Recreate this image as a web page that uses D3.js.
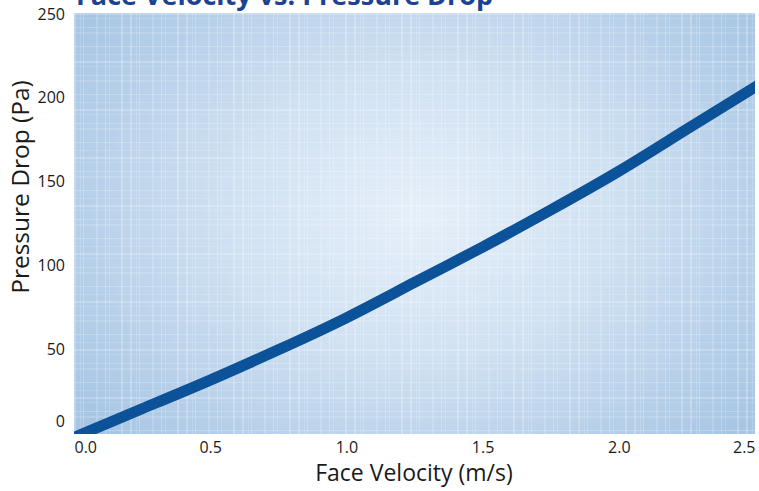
<!DOCTYPE html>
<html>
<head>
<meta charset="utf-8">
<script src="https://cdn.jsdelivr.net/npm/d3@7"></script>
<style>
  html, body { margin: 0; padding: 0; background: #ffffff; }
  svg { display: block; }
</style>
</head>
<body>
<svg id="chart" width="759" height="491"></svg>
<script>
// ---- data ----
const velocity = [0.0, 0.25, 0.5, 0.75, 1.0, 1.25, 1.5, 1.75, 2.0, 2.25, 2.5, 2.55];
const pressure = [-2, 15, 32, 50, 69, 90, 111, 133, 156, 181, 206, 211];
const xTicks = [0.0, 0.5, 1.0, 1.5, 2.0, 2.5];
const yTicks = [0, 50, 100, 150, 200, 250];
const titleText = "Face Velocity vs. Pressure Drop";
const xLabel = "Face Velocity (m/s)";
const yLabel = "Pressure Drop (Pa)";

const svg = d3.select("#chart");
const font = "'Open Sans', 'Noto Sans', sans-serif";
const plot = { left: 74, right: 755, top: 13, bottom: 434 };

const x = d3.scaleLinear().domain([0, 2.5]).range([plot.left, plot.right]);
const y = d3.scaleLinear().domain([0, 250]).range([plot.bottom, plot.top]);

const defs = svg.append("defs");
const rg = defs.append("radialGradient").attr("id", "bg")
  .attr("gradientUnits", "userSpaceOnUse")
  .attr("cx", 420).attr("cy", 215).attr("r", 420)
  .attr("gradientTransform", "translate(420,215) scale(1,0.75) translate(-420,-215)");
rg.append("stop").attr("offset", "0%").attr("stop-color", "#e6eff9");
rg.append("stop").attr("offset", "45%").attr("stop-color", "#d0e1f2");
rg.append("stop").attr("offset", "100%").attr("stop-color", "#a8c6e4");

defs.append("clipPath").attr("id", "clip").append("rect")
  .attr("x", plot.left).attr("y", plot.top)
  .attr("width", plot.right - plot.left).attr("height", plot.bottom - plot.top);

// plot background
svg.append("rect")
  .attr("x", plot.left).attr("y", plot.top)
  .attr("width", plot.right - plot.left).attr("height", plot.bottom - plot.top)
  .attr("fill", "url(#bg)");

// plaid texture (decorative, deterministic)
const plaid = svg.append("g").attr("clip-path", "url(#clip)");
const vOff = [0, 6, 9, 22, 31, 35, 47];
const hOff = [0, 5, 14, 19, 33, 41];
for (let px = plot.left; px < plot.right; px += 56) {
  vOff.forEach((o, i) => {
    plaid.append("rect").attr("x", px + o).attr("y", plot.top)
      .attr("width", i % 3 === 0 ? 2 : 1).attr("height", plot.bottom - plot.top)
      .attr("fill", "#ffffff").attr("opacity", i % 2 ? 0.16 : 0.24);
  });
}
for (let py = plot.top; py < plot.bottom; py += 48) {
  hOff.forEach((o, i) => {
    plaid.append("rect").attr("x", plot.left).attr("y", py + o)
      .attr("width", plot.right - plot.left).attr("height", i % 3 === 0 ? 2 : 1)
      .attr("fill", "#ffffff").attr("opacity", i % 2 ? 0.14 : 0.22);
  });
}

// curve
const pts = velocity.map((v, i) => [v, pressure[i]]);
const line = d3.line().x(d => x(d[0])).y(d => y(d[1])).curve(d3.curveNatural);
svg.append("path").datum(pts)
  .attr("clip-path", "url(#clip)")
  .attr("d", line)
  .attr("fill", "none")
  .attr("stroke", "#0b5299")
  .attr("stroke-width", 11)
  .attr("stroke-linecap", "round");

// title (cut off at top, as in the reference)
svg.append("text")
  .attr("x", 76).attr("y", 5)
  .attr("font-family", font).attr("font-weight", "bold")
  .attr("font-size", 27).attr("fill", "#1b4391")
  .text(titleText);

// x axis tick labels
const xAxis = d3.axisBottom(x).tickValues(xTicks).tickSize(0).tickPadding(0)
  .tickFormat(d3.format(".1f"));
const gx = svg.append("g").attr("transform", `translate(0,${plot.bottom})`).call(xAxis);
gx.select(".domain").remove();
gx.selectAll("text")
  .attr("font-family", font).attr("font-size", 16).attr("fill", "#1a1a1a")
  .attr("y", 19).attr("dy", 0)
  .attr("text-anchor", (d, i) => i === 0 ? "start" : (i === xTicks.length - 1 ? "end" : "middle"));

// y axis tick labels
const yAxis = d3.axisLeft(y).tickValues(yTicks).tickSize(0).tickPadding(9)
  .tickFormat(d3.format("d"));
const gy = svg.append("g").attr("transform", `translate(${plot.left},0)`).call(yAxis);
gy.select(".domain").remove();
gy.selectAll("text")
  .attr("font-family", font).attr("font-size", 16).attr("fill", "#1a1a1a")
  .attr("dy", (d) => d === 0 ? "-0.45em" : (d === 250 ? "0.42em" : "0.32em"));

// axis titles
svg.append("text")
  .attr("x", 414).attr("y", 481)
  .attr("text-anchor", "middle")
  .attr("font-family", font).attr("font-size", 23).attr("fill", "#1a1a1a")
  .text(xLabel);

svg.append("text")
  .attr("transform", "translate(29,187) rotate(-90)")
  .attr("text-anchor", "middle")
  .attr("font-family", font).attr("font-size", 24.5).attr("fill", "#1a1a1a")
  .text(yLabel);
</script>
</body>
</html>
